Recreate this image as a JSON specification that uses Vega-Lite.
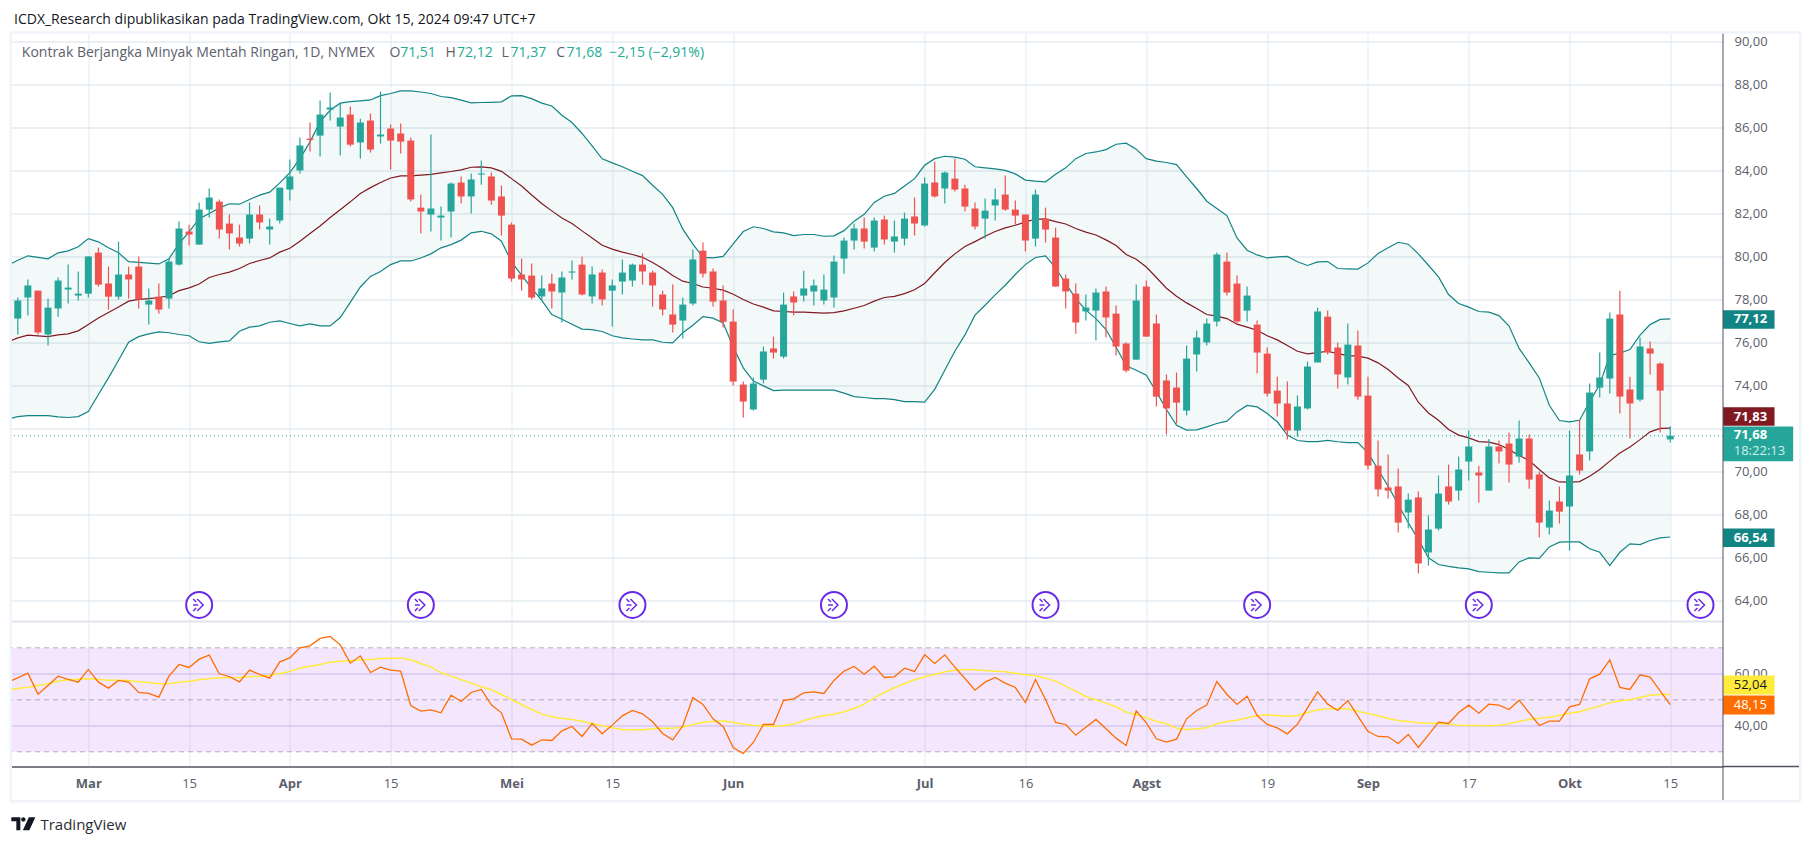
{
"$schema":"https://vega.github.io/schema/vega-lite/v6.json",
"background":"white",
"padding":{"left":8.5,"top":12.5,"right":0,"bottom":0},
"title":{"text":"ICDX_Research dipublikasikan pada TradingView.com, Okt 15, 2024 09:47 UTC+7","anchor":"start","fontSize":14,"fontWeight":"normal","color":"#131722","font":"Open Sans","offset":4,"dx":2.5,"frame":"group"},
"config":{"font":"Open Sans","view":{"stroke":null}},
"datasets":{
"bars":[
{"bar":-1,"upper":79.61,"mid":76.05,"lower":72.45,"rsi":56.79,"ma":53.85},
{"bar":0,"open":77.13,"high":78.11,"low":76.39,"close":77.97,"upper":79.84,"mid":76.23,"lower":72.57,"rsi":58.46,"ma":54.36},
{"bar":1,"open":78.11,"high":78.95,"low":77.27,"close":78.67,"upper":80.05,"mid":76.36,"lower":72.62,"rsi":60.26,"ma":54.87},
{"bar":2,"open":78.43,"high":78.43,"low":76.39,"close":76.48,"upper":79.98,"mid":76.33,"lower":72.62,"rsi":52.18,"ma":55.51},
{"bar":3,"open":76.39,"high":78.06,"low":75.88,"close":77.64,"upper":79.91,"mid":76.29,"lower":72.62,"rsi":55.51,"ma":56.15},
{"bar":4,"open":77.60,"high":79.04,"low":77.22,"close":78.90,"upper":80.19,"mid":76.37,"lower":72.56,"rsi":59.10,"ma":57.18},
{"bar":5,"open":78.48,"high":79.64,"low":77.83,"close":78.57,"upper":80.28,"mid":76.42,"lower":72.53,"rsi":57.82,"ma":57.69},
{"bar":6,"open":78.20,"high":79.32,"low":77.97,"close":78.29,"upper":80.47,"mid":76.56,"lower":72.57,"rsi":56.79,"ma":57.95},
{"bar":7,"open":78.29,"high":80.02,"low":78.11,"close":80.02,"upper":80.85,"mid":76.85,"lower":72.81,"rsi":61.67,"ma":58.08},
{"bar":8,"open":80.20,"high":80.43,"low":78.62,"close":78.71,"upper":80.70,"mid":77.16,"lower":73.60,"rsi":56.79,"ma":57.82},
{"bar":9,"open":78.76,"high":79.55,"low":77.55,"close":78.15,"upper":80.42,"mid":77.41,"lower":74.37,"rsi":54.49,"ma":57.56},
{"bar":10,"open":78.15,"high":80.71,"low":78.02,"close":79.18,"upper":80.19,"mid":77.67,"lower":75.19,"rsi":57.44,"ma":57.56},
{"bar":11,"open":79.18,"high":79.55,"low":78.06,"close":78.95,"upper":79.78,"mid":77.94,"lower":76.03,"rsi":56.79,"ma":57.44},
{"bar":12,"open":79.55,"high":80.02,"low":77.60,"close":78.02,"upper":79.74,"mid":78.02,"lower":76.29,"rsi":52.82,"ma":56.92},
{"bar":13,"open":77.78,"high":78.53,"low":76.85,"close":77.97,"upper":79.71,"mid":78.06,"lower":76.42,"rsi":52.44,"ma":56.67},
{"bar":14,"open":78.15,"high":78.76,"low":77.36,"close":77.55,"upper":79.67,"mid":78.11,"lower":76.51,"rsi":51.03,"ma":56.15},
{"bar":15,"open":78.06,"high":79.92,"low":77.60,"close":79.78,"upper":79.91,"mid":78.19,"lower":76.47,"rsi":59.10,"ma":56.15},
{"bar":16,"open":79.64,"high":81.64,"low":79.60,"close":81.32,"upper":80.62,"mid":78.43,"lower":76.39,"rsi":63.59,"ma":56.79},
{"bar":17,"open":81.18,"high":81.50,"low":80.53,"close":81.04,"upper":81.16,"mid":78.56,"lower":76.33,"rsi":62.44,"ma":57.18},
{"bar":18,"open":80.57,"high":82.53,"low":80.57,"close":82.20,"upper":81.78,"mid":78.74,"lower":76.05,"rsi":65.64,"ma":57.69},
{"bar":19,"open":82.20,"high":83.18,"low":81.83,"close":82.76,"upper":82.02,"mid":79.04,"lower":75.98,"rsi":67.18,"ma":58.21},
{"bar":20,"open":82.57,"high":82.67,"low":80.85,"close":81.27,"upper":82.28,"mid":79.18,"lower":76.05,"rsi":60.00,"ma":58.46},
{"bar":21,"open":81.55,"high":81.97,"low":80.34,"close":81.09,"upper":82.47,"mid":79.29,"lower":76.09,"rsi":58.97,"ma":58.46},
{"bar":22,"open":80.90,"high":81.50,"low":80.48,"close":80.62,"upper":82.45,"mid":79.46,"lower":76.54,"rsi":56.92,"ma":58.59},
{"bar":23,"open":80.85,"high":82.53,"low":80.62,"close":81.97,"upper":82.67,"mid":79.69,"lower":76.73,"rsi":61.41,"ma":58.85},
{"bar":24,"open":81.97,"high":82.39,"low":81.27,"close":81.60,"upper":82.87,"mid":79.83,"lower":76.79,"rsi":59.74,"ma":59.10},
{"bar":25,"open":81.27,"high":81.78,"low":80.57,"close":81.41,"upper":83.01,"mid":79.95,"lower":76.96,"rsi":58.33,"ma":59.36},
{"bar":26,"open":81.69,"high":83.22,"low":81.55,"close":83.22,"upper":83.44,"mid":80.22,"lower":77.02,"rsi":64.62,"ma":60.13},
{"bar":27,"open":83.13,"high":84.53,"low":82.62,"close":83.74,"upper":83.92,"mid":80.40,"lower":76.90,"rsi":66.15,"ma":60.90},
{"bar":28,"open":84.02,"high":85.55,"low":83.88,"close":85.18,"upper":84.57,"mid":80.73,"lower":76.79,"rsi":70.00,"ma":62.18},
{"bar":29,"open":85.50,"high":86.25,"low":84.90,"close":85.44,"upper":85.35,"mid":81.09,"lower":76.88,"rsi":70.77,"ma":62.95},
{"bar":30,"open":85.64,"high":87.27,"low":84.67,"close":86.62,"upper":86.28,"mid":81.44,"lower":76.79,"rsi":73.59,"ma":63.59},
{"bar":31,"open":86.85,"high":87.64,"low":86.34,"close":86.95,"upper":86.82,"mid":81.83,"lower":76.79,"rsi":74.36,"ma":64.49},
{"bar":32,"open":86.06,"high":87.13,"low":84.71,"close":86.48,"upper":87.15,"mid":82.19,"lower":77.18,"rsi":71.15,"ma":64.87},
{"bar":33,"open":86.62,"high":86.99,"low":85.13,"close":85.22,"upper":87.22,"mid":82.56,"lower":77.88,"rsi":64.10,"ma":65.00},
{"bar":34,"open":85.32,"high":86.43,"low":84.57,"close":86.25,"upper":87.26,"mid":82.95,"lower":78.60,"rsi":66.92,"ma":65.38},
{"bar":35,"open":86.34,"high":86.67,"low":84.85,"close":84.99,"upper":87.30,"mid":83.22,"lower":79.09,"rsi":60.51,"ma":65.51},
{"bar":36,"open":85.60,"high":87.69,"low":85.27,"close":85.69,"upper":87.50,"mid":83.46,"lower":79.32,"rsi":62.56,"ma":65.90},
{"bar":37,"open":85.97,"high":86.16,"low":84.06,"close":85.41,"upper":87.60,"mid":83.67,"lower":79.64,"rsi":61.41,"ma":66.03},
{"bar":38,"open":85.74,"high":86.20,"low":84.81,"close":85.36,"upper":87.72,"mid":83.77,"lower":79.81,"rsi":61.03,"ma":66.03},
{"bar":39,"open":85.41,"high":85.55,"low":82.57,"close":82.67,"upper":87.72,"mid":83.77,"lower":79.81,"rsi":47.82,"ma":65.38},
{"bar":40,"open":82.29,"high":82.90,"low":81.09,"close":82.11,"upper":87.67,"mid":83.80,"lower":79.95,"rsi":45.64,"ma":63.97},
{"bar":41,"open":81.97,"high":85.69,"low":81.18,"close":82.25,"upper":87.60,"mid":83.84,"lower":80.14,"rsi":46.15,"ma":62.69},
{"bar":42,"open":81.83,"high":82.34,"low":80.76,"close":81.92,"upper":87.46,"mid":83.91,"lower":80.42,"rsi":45.00,"ma":60.38},
{"bar":43,"open":82.11,"high":83.46,"low":80.90,"close":83.41,"upper":87.41,"mid":83.97,"lower":80.57,"rsi":51.79,"ma":59.10},
{"bar":44,"open":83.46,"high":83.74,"low":82.48,"close":82.81,"upper":87.29,"mid":84.05,"lower":80.78,"rsi":49.36,"ma":57.69},
{"bar":45,"open":82.81,"high":83.88,"low":82.02,"close":83.60,"upper":87.16,"mid":84.17,"lower":81.12,"rsi":52.82,"ma":56.41},
{"bar":46,"open":83.83,"high":84.48,"low":83.36,"close":83.88,"upper":87.18,"mid":84.19,"lower":81.19,"rsi":53.97,"ma":55.00},
{"bar":47,"open":83.74,"high":83.92,"low":82.43,"close":82.62,"upper":87.19,"mid":84.14,"lower":81.07,"rsi":48.08,"ma":53.85},
{"bar":48,"open":82.81,"high":83.32,"low":80.99,"close":81.92,"upper":87.21,"mid":83.98,"lower":80.73,"rsi":45.00,"ma":52.05},
{"bar":49,"open":81.50,"high":81.60,"low":78.85,"close":78.99,"upper":87.49,"mid":83.64,"lower":79.77,"rsi":35.00,"ma":50.13},
{"bar":50,"open":79.18,"high":79.92,"low":78.43,"close":78.95,"upper":87.50,"mid":83.30,"lower":79.15,"rsi":34.87,"ma":48.21},
{"bar":51,"open":79.13,"high":79.69,"low":78.02,"close":78.11,"upper":87.36,"mid":82.88,"lower":78.53,"rsi":32.56,"ma":46.28},
{"bar":52,"open":78.16,"high":79.13,"low":77.97,"close":78.53,"upper":87.15,"mid":82.48,"lower":77.98,"rsi":34.62,"ma":44.49},
{"bar":53,"open":78.76,"high":79.22,"low":77.60,"close":78.39,"upper":87.02,"mid":82.14,"lower":77.32,"rsi":34.36,"ma":43.46},
{"bar":54,"open":78.34,"high":79.32,"low":76.95,"close":79.04,"upper":86.59,"mid":81.81,"lower":77.10,"rsi":38.08,"ma":42.95},
{"bar":55,"open":79.27,"high":79.83,"low":78.95,"close":79.32,"upper":86.25,"mid":81.55,"lower":76.87,"rsi":39.74,"ma":42.44},
{"bar":56,"open":79.64,"high":80.02,"low":78.20,"close":78.25,"upper":85.74,"mid":81.21,"lower":76.64,"rsi":35.90,"ma":41.79},
{"bar":57,"open":78.16,"high":79.55,"low":77.83,"close":79.18,"upper":85.16,"mid":80.88,"lower":76.62,"rsi":40.90,"ma":40.90},
{"bar":58,"open":79.27,"high":79.41,"low":77.74,"close":78.02,"upper":84.56,"mid":80.54,"lower":76.53,"rsi":36.92,"ma":40.00},
{"bar":59,"open":78.43,"high":78.95,"low":76.76,"close":78.67,"upper":84.37,"mid":80.36,"lower":76.33,"rsi":40.26,"ma":39.23},
{"bar":60,"open":78.85,"high":79.88,"low":78.25,"close":79.27,"upper":84.19,"mid":80.22,"lower":76.23,"rsi":43.85,"ma":38.59},
{"bar":61,"open":78.90,"high":79.69,"low":78.62,"close":79.64,"upper":83.98,"mid":80.11,"lower":76.18,"rsi":45.90,"ma":38.46},
{"bar":62,"open":79.64,"high":80.16,"low":78.71,"close":79.32,"upper":83.78,"mid":79.98,"lower":76.14,"rsi":44.62,"ma":38.46},
{"bar":63,"open":79.27,"high":79.36,"low":77.69,"close":78.67,"upper":83.33,"mid":79.74,"lower":76.14,"rsi":41.54,"ma":38.85},
{"bar":64,"open":78.25,"high":78.43,"low":77.27,"close":77.55,"upper":82.91,"mid":79.46,"lower":76.03,"rsi":37.05,"ma":39.10},
{"bar":65,"open":77.32,"high":78.71,"low":76.48,"close":76.85,"upper":82.29,"mid":79.13,"lower":76.00,"rsi":34.62,"ma":39.10},
{"bar":66,"open":77.04,"high":78.11,"low":76.20,"close":77.78,"upper":81.29,"mid":78.87,"lower":76.47,"rsi":40.00,"ma":39.49},
{"bar":67,"open":77.83,"high":80.34,"low":77.74,"close":79.88,"upper":80.59,"mid":78.76,"lower":76.82,"rsi":50.90,"ma":40.51},
{"bar":68,"open":80.29,"high":80.67,"low":79.04,"close":79.22,"upper":79.98,"mid":78.60,"lower":77.22,"rsi":48.21,"ma":41.41},
{"bar":69,"open":79.32,"high":79.46,"low":77.69,"close":77.92,"upper":79.95,"mid":78.54,"lower":77.15,"rsi":42.69,"ma":41.67},
{"bar":70,"open":77.97,"high":78.67,"low":76.71,"close":76.98,"upper":80.02,"mid":78.45,"lower":76.93,"rsi":39.74,"ma":41.92},
{"bar":71,"open":76.99,"high":77.55,"low":74.02,"close":74.20,"upper":80.60,"mid":78.26,"lower":75.81,"rsi":31.67,"ma":41.28},
{"bar":72,"open":74.06,"high":74.20,"low":72.53,"close":73.27,"upper":81.18,"mid":78.02,"lower":74.84,"rsi":29.36,"ma":40.64},
{"bar":73,"open":72.90,"high":74.39,"low":72.85,"close":74.11,"upper":81.40,"mid":77.81,"lower":74.22,"rsi":33.59,"ma":40.26},
{"bar":74,"open":74.29,"high":75.83,"low":74.11,"close":75.60,"upper":81.32,"mid":77.66,"lower":74.00,"rsi":40.51,"ma":40.00},
{"bar":75,"open":75.74,"high":76.29,"low":75.27,"close":75.55,"upper":81.16,"mid":77.49,"lower":73.78,"rsi":40.51,"ma":39.74},
{"bar":76,"open":75.36,"high":78.34,"low":75.27,"close":77.78,"upper":81.12,"mid":77.46,"lower":73.80,"rsi":49.74,"ma":40.00},
{"bar":77,"open":78.16,"high":78.39,"low":77.27,"close":77.88,"upper":80.99,"mid":77.43,"lower":73.80,"rsi":50.38,"ma":40.64},
{"bar":78,"open":78.20,"high":79.36,"low":77.92,"close":78.53,"upper":81.04,"mid":77.43,"lower":73.80,"rsi":52.69,"ma":41.92},
{"bar":79,"open":78.39,"high":78.95,"low":77.74,"close":78.67,"upper":81.04,"mid":77.41,"lower":73.80,"rsi":53.08,"ma":43.08},
{"bar":80,"open":77.97,"high":79.18,"low":77.78,"close":78.48,"upper":80.96,"mid":77.38,"lower":73.80,"rsi":52.44,"ma":43.97},
{"bar":81,"open":78.11,"high":80.06,"low":77.64,"close":79.78,"upper":80.98,"mid":77.41,"lower":73.80,"rsi":57.44,"ma":44.49},
{"bar":82,"open":79.92,"high":80.90,"low":79.22,"close":80.76,"upper":81.22,"mid":77.49,"lower":73.66,"rsi":61.03,"ma":45.38},
{"bar":83,"open":80.76,"high":81.55,"low":80.34,"close":81.32,"upper":81.66,"mid":77.61,"lower":73.50,"rsi":62.82,"ma":46.67},
{"bar":84,"open":81.32,"high":81.83,"low":80.39,"close":80.71,"upper":81.98,"mid":77.74,"lower":73.46,"rsi":59.87,"ma":48.33},
{"bar":85,"open":80.43,"high":81.83,"low":80.25,"close":81.69,"upper":82.53,"mid":77.94,"lower":73.41,"rsi":62.95,"ma":50.77},
{"bar":86,"open":81.74,"high":81.92,"low":80.57,"close":80.81,"upper":82.82,"mid":78.11,"lower":73.41,"rsi":58.59,"ma":52.82},
{"bar":87,"open":80.71,"high":81.69,"low":80.20,"close":80.95,"upper":82.95,"mid":78.16,"lower":73.36,"rsi":58.85,"ma":54.62},
{"bar":88,"open":80.85,"high":82.06,"low":80.53,"close":81.78,"upper":83.30,"mid":78.29,"lower":73.27,"rsi":62.18,"ma":56.28},
{"bar":89,"open":81.88,"high":82.76,"low":80.99,"close":81.55,"upper":83.64,"mid":78.47,"lower":73.27,"rsi":60.90,"ma":57.69},
{"bar":90,"open":81.46,"high":83.69,"low":81.41,"close":83.41,"upper":84.26,"mid":78.76,"lower":73.24,"rsi":67.31,"ma":58.85},
{"bar":91,"open":83.46,"high":84.43,"low":82.76,"close":82.81,"upper":84.57,"mid":79.26,"lower":73.84,"rsi":63.97,"ma":59.74},
{"bar":92,"open":83.18,"high":83.97,"low":82.48,"close":83.92,"upper":84.68,"mid":79.74,"lower":74.73,"rsi":67.31,"ma":60.77},
{"bar":93,"open":83.64,"high":84.57,"low":83.04,"close":83.13,"upper":84.64,"mid":80.14,"lower":75.61,"rsi":62.56,"ma":61.41},
{"bar":94,"open":83.18,"high":83.36,"low":82.11,"close":82.34,"upper":84.54,"mid":80.48,"lower":76.37,"rsi":58.21,"ma":61.67},
{"bar":95,"open":82.25,"high":82.53,"low":81.27,"close":81.41,"upper":84.19,"mid":80.71,"lower":77.29,"rsi":53.72,"ma":61.54},
{"bar":96,"open":81.78,"high":82.71,"low":80.85,"close":82.15,"upper":84.14,"mid":80.96,"lower":77.75,"rsi":56.79,"ma":61.28},
{"bar":97,"open":82.39,"high":83.18,"low":81.69,"close":82.67,"upper":84.09,"mid":81.18,"lower":78.23,"rsi":58.59,"ma":61.03},
{"bar":98,"open":82.90,"high":83.78,"low":82.15,"close":82.20,"upper":84.02,"mid":81.35,"lower":78.68,"rsi":56.41,"ma":60.77},
{"bar":99,"open":82.20,"high":82.62,"low":81.50,"close":81.92,"upper":83.86,"mid":81.47,"lower":79.18,"rsi":54.74,"ma":60.26},
{"bar":100,"open":81.97,"high":81.97,"low":80.25,"close":80.76,"upper":83.57,"mid":81.63,"lower":79.64,"rsi":48.97,"ma":59.62},
{"bar":101,"open":80.85,"high":83.13,"low":80.48,"close":82.90,"upper":83.52,"mid":81.75,"lower":79.97,"rsi":57.82,"ma":59.23},
{"bar":102,"open":81.78,"high":82.29,"low":80.67,"close":81.27,"upper":83.49,"mid":81.77,"lower":80.05,"rsi":50.13,"ma":58.33},
{"bar":103,"open":80.90,"high":81.36,"low":78.62,"close":78.62,"upper":83.84,"mid":81.64,"lower":79.49,"rsi":41.28,"ma":57.18},
{"bar":104,"open":78.99,"high":79.18,"low":77.60,"close":78.39,"upper":84.14,"mid":81.53,"lower":78.76,"rsi":40.51,"ma":55.26},
{"bar":105,"open":78.29,"high":78.76,"low":76.43,"close":76.95,"upper":84.57,"mid":81.32,"lower":78.06,"rsi":36.41,"ma":53.33},
{"bar":106,"open":77.46,"high":78.25,"low":77.04,"close":77.64,"upper":84.81,"mid":81.15,"lower":77.52,"rsi":39.49,"ma":51.28},
{"bar":107,"open":77.50,"high":78.53,"low":76.11,"close":78.34,"upper":84.88,"mid":81.02,"lower":77.13,"rsi":42.44,"ma":50.00},
{"bar":108,"open":78.39,"high":78.62,"low":76.25,"close":77.18,"upper":84.99,"mid":80.79,"lower":76.62,"rsi":38.85,"ma":48.72},
{"bar":109,"open":77.36,"high":77.74,"low":75.41,"close":75.83,"upper":85.24,"mid":80.53,"lower":75.80,"rsi":35.26,"ma":47.31},
{"bar":110,"open":75.97,"high":76.02,"low":74.62,"close":74.71,"upper":85.29,"mid":80.11,"lower":74.93,"rsi":32.44,"ma":45.26},
{"bar":111,"open":75.22,"high":78.71,"low":75.22,"close":77.97,"upper":85.01,"mid":79.89,"lower":74.73,"rsi":45.77,"ma":44.36},
{"bar":112,"open":78.62,"high":78.90,"low":76.29,"close":76.29,"upper":84.57,"mid":79.53,"lower":74.50,"rsi":41.15,"ma":43.08},
{"bar":113,"open":76.90,"high":77.32,"low":73.04,"close":73.50,"upper":84.45,"mid":79.04,"lower":73.72,"rsi":35.00,"ma":41.79},
{"bar":114,"open":74.25,"high":74.53,"low":71.74,"close":72.95,"upper":84.39,"mid":78.54,"lower":72.90,"rsi":33.72,"ma":40.77},
{"bar":115,"open":73.92,"high":74.62,"low":72.25,"close":73.22,"upper":84.29,"mid":78.17,"lower":72.17,"rsi":34.87,"ma":39.10},
{"bar":116,"open":72.85,"high":75.88,"low":72.62,"close":75.27,"upper":83.72,"mid":77.86,"lower":71.94,"rsi":42.69,"ma":38.59},
{"bar":117,"open":75.46,"high":76.57,"low":74.67,"close":76.25,"upper":83.18,"mid":77.60,"lower":71.95,"rsi":45.90,"ma":38.85},
{"bar":118,"open":76.02,"high":77.13,"low":75.88,"close":76.90,"upper":82.59,"mid":77.32,"lower":72.09,"rsi":47.95,"ma":39.23},
{"bar":119,"open":76.99,"high":80.20,"low":76.76,"close":80.11,"upper":82.25,"mid":77.24,"lower":72.25,"rsi":57.05,"ma":40.77},
{"bar":120,"open":79.78,"high":80.20,"low":78.20,"close":78.34,"upper":81.92,"mid":77.13,"lower":72.36,"rsi":52.05,"ma":41.67},
{"bar":121,"open":78.76,"high":79.13,"low":76.85,"close":76.99,"upper":80.88,"mid":76.87,"lower":72.79,"rsi":48.21,"ma":42.18},
{"bar":122,"open":77.50,"high":78.62,"low":76.99,"close":78.20,"upper":80.31,"mid":76.73,"lower":73.09,"rsi":51.41,"ma":43.08},
{"bar":123,"open":76.85,"high":77.04,"low":74.57,"close":75.55,"upper":80.09,"mid":76.59,"lower":73.02,"rsi":43.97,"ma":43.85},
{"bar":124,"open":75.50,"high":75.78,"low":73.50,"close":73.64,"upper":79.95,"mid":76.33,"lower":72.71,"rsi":40.51,"ma":44.23},
{"bar":125,"open":73.78,"high":74.43,"low":72.57,"close":73.18,"upper":80.00,"mid":76.14,"lower":72.33,"rsi":39.20,"ma":43.97},
{"bar":126,"open":73.18,"high":74.20,"low":71.50,"close":71.92,"upper":80.02,"mid":75.88,"lower":71.71,"rsi":36.92,"ma":43.72},
{"bar":127,"open":71.92,"high":73.55,"low":71.64,"close":73.04,"upper":79.77,"mid":75.61,"lower":71.46,"rsi":40.64,"ma":43.97},
{"bar":128,"open":72.95,"high":75.13,"low":72.90,"close":74.90,"upper":79.60,"mid":75.49,"lower":71.41,"rsi":46.92,"ma":45.00},
{"bar":129,"open":75.09,"high":77.64,"low":75.09,"close":77.46,"upper":79.77,"mid":75.55,"lower":71.41,"rsi":53.08,"ma":46.15},
{"bar":130,"open":77.22,"high":77.50,"low":75.46,"close":75.55,"upper":79.78,"mid":75.61,"lower":71.46,"rsi":48.33,"ma":46.54},
{"bar":131,"open":75.78,"high":76.02,"low":73.88,"close":74.53,"upper":79.46,"mid":75.50,"lower":71.40,"rsi":45.90,"ma":46.54},
{"bar":132,"open":74.39,"high":76.90,"low":74.06,"close":75.92,"upper":79.44,"mid":75.41,"lower":71.36,"rsi":49.74,"ma":46.54},
{"bar":133,"open":75.88,"high":76.57,"low":73.36,"close":73.50,"upper":79.43,"mid":75.38,"lower":71.36,"rsi":43.72,"ma":45.64},
{"bar":134,"open":73.55,"high":74.43,"low":70.11,"close":70.29,"upper":79.72,"mid":75.29,"lower":70.88,"rsi":37.82,"ma":44.74},
{"bar":135,"open":70.29,"high":71.46,"low":68.85,"close":69.18,"upper":80.16,"mid":75.07,"lower":70.11,"rsi":35.90,"ma":43.85},
{"bar":136,"open":69.27,"high":70.81,"low":68.76,"close":69.13,"upper":80.42,"mid":74.76,"lower":69.33,"rsi":35.77,"ma":42.82},
{"bar":137,"open":69.32,"high":70.16,"low":67.18,"close":67.64,"upper":80.68,"mid":74.37,"lower":68.48,"rsi":33.21,"ma":42.05},
{"bar":138,"open":68.11,"high":68.99,"low":67.36,"close":68.71,"upper":80.59,"mid":74.02,"lower":67.63,"rsi":36.67,"ma":41.67},
{"bar":139,"open":68.81,"high":69.09,"low":65.27,"close":65.74,"upper":80.14,"mid":73.24,"lower":66.85,"rsi":31.67,"ma":41.15},
{"bar":140,"open":66.25,"high":67.97,"low":65.64,"close":67.32,"upper":79.61,"mid":72.74,"lower":66.00,"rsi":36.54,"ma":41.03},
{"bar":141,"open":67.36,"high":69.83,"low":67.27,"close":68.99,"upper":79.07,"mid":72.40,"lower":65.69,"rsi":41.41,"ma":41.03},
{"bar":142,"open":69.32,"high":70.34,"low":68.48,"close":68.62,"upper":78.25,"mid":71.97,"lower":65.60,"rsi":40.90,"ma":40.64},
{"bar":143,"open":69.13,"high":70.71,"low":68.67,"close":70.11,"upper":77.83,"mid":71.71,"lower":65.53,"rsi":45.13,"ma":40.26},
{"bar":144,"open":70.48,"high":71.92,"low":69.60,"close":71.18,"upper":77.66,"mid":71.58,"lower":65.49,"rsi":47.95,"ma":40.13},
{"bar":145,"open":69.97,"high":70.29,"low":68.57,"close":69.83,"upper":77.46,"mid":71.41,"lower":65.36,"rsi":44.87,"ma":40.13},
{"bar":146,"open":69.13,"high":71.53,"low":69.13,"close":71.18,"upper":77.43,"mid":71.38,"lower":65.33,"rsi":48.33,"ma":40.00},
{"bar":147,"open":71.18,"high":71.46,"low":70.39,"close":70.95,"upper":77.27,"mid":71.27,"lower":65.30,"rsi":47.95,"ma":40.26},
{"bar":148,"open":71.32,"high":71.83,"low":69.50,"close":70.34,"upper":76.78,"mid":71.04,"lower":65.30,"rsi":46.28,"ma":40.77},
{"bar":149,"open":70.71,"high":72.39,"low":70.43,"close":71.55,"upper":75.74,"mid":70.76,"lower":65.81,"rsi":49.87,"ma":41.67},
{"bar":150,"open":71.55,"high":71.74,"low":69.22,"close":69.64,"upper":75.07,"mid":70.53,"lower":66.00,"rsi":45.00,"ma":42.44},
{"bar":151,"open":69.88,"high":70.02,"low":66.95,"close":67.64,"upper":74.37,"mid":70.11,"lower":65.98,"rsi":40.13,"ma":42.95},
{"bar":152,"open":67.41,"high":68.67,"low":67.09,"close":68.20,"upper":73.10,"mid":69.72,"lower":66.51,"rsi":41.79,"ma":43.33},
{"bar":153,"open":68.62,"high":69.32,"low":67.60,"close":68.15,"upper":72.39,"mid":69.53,"lower":66.73,"rsi":41.79,"ma":43.97},
{"bar":154,"open":68.39,"high":71.92,"low":66.34,"close":69.83,"upper":72.33,"mid":69.52,"lower":66.74,"rsi":47.31,"ma":44.87},
{"bar":155,"open":70.81,"high":72.43,"low":69.88,"close":70.06,"upper":72.40,"mid":69.55,"lower":66.74,"rsi":48.21,"ma":45.38},
{"bar":156,"open":70.95,"high":74.11,"low":70.53,"close":73.69,"upper":73.26,"mid":69.80,"lower":66.42,"rsi":58.08,"ma":46.54},
{"bar":157,"open":73.92,"high":75.55,"low":73.46,"close":74.39,"upper":74.06,"mid":70.11,"lower":66.26,"rsi":59.87,"ma":47.56},
{"bar":158,"open":74.34,"high":77.41,"low":73.64,"close":77.13,"upper":75.41,"mid":70.50,"lower":65.64,"rsi":65.38,"ma":48.85},
{"bar":159,"open":77.32,"high":78.43,"low":72.71,"close":73.50,"upper":75.53,"mid":70.88,"lower":66.26,"rsi":54.74,"ma":49.62},
{"bar":160,"open":73.83,"high":74.43,"low":71.55,"close":73.18,"upper":75.69,"mid":71.16,"lower":66.65,"rsi":53.97,"ma":50.00},
{"bar":161,"open":73.36,"high":76.25,"low":73.27,"close":75.83,"upper":76.36,"mid":71.50,"lower":66.62,"rsi":59.62,"ma":50.90},
{"bar":162,"open":75.74,"high":76.06,"low":74.53,"close":75.50,"upper":76.85,"mid":71.86,"lower":66.81,"rsi":58.72,"ma":51.79},
{"bar":163,"open":75.04,"high":75.09,"low":71.83,"close":73.78,"upper":77.09,"mid":72.02,"lower":66.93,"rsi":53.46,"ma":52.05},
{"bar":164,"open":71.51,"high":72.12,"low":71.37,"close":71.68,"upper":77.12,"mid":72.03,"lower":66.97,"rsi":48.15,"ma":52.04}
],
"events":[{"bar":18},{"bar":40},{"bar":61},{"bar":81},{"bar":102},{"bar":123},{"bar":145},{"bar":167}],
"legend":[
{"at":0.4,"text":"Kontrak Berjangka Minyak Mentah Ringan, 1D, NYMEX","kind":"name"},
{"at":36.89,"text":"O","kind":"name"},
{"at":37.95,"text":"71,51","kind":"value"},
{"at":42.45,"text":"H","kind":"name"},
{"at":43.6,"text":"72,12","kind":"value"},
{"at":48.0,"text":"L","kind":"name"},
{"at":48.9,"text":"71,37","kind":"value"},
{"at":53.43,"text":"C","kind":"name"},
{"at":54.46,"text":"71,68","kind":"value"},
{"at":58.7,"text":"−2,15 (−2,91%)","kind":"value"}
],
"priceTags":[
{"series":"upper","label":"77,12","at":77.09},
{"series":"mid","label":"71,83","at":72.57},
{"series":"lower","label":"66,54","at":66.93}
],
"rsiTags":[
{"series":"ma","label":"52,04","at":55.69},
{"series":"rsi","label":"48,15","at":48.0}
]
},
"spacing":0,
"bounds":"flush",
"vconcat":[
{"width":1711.5,"height":588,"layer":[
{"data":{"name":"bars"},"mark":{"type":"area","color":"#138484","opacity":0.05,"clip":true},
"encoding":{
"x":{"field":"bar","type":"quantitative","title":null,"scale":{"domain":[-0.625,169.235],"nice":false,"zero":false,"padding":0},
"axis":{"values":[7,17,27,37,49,59,71,90,100,112,124,134,144,154,164],"labels":false,"ticks":false,"domain":false,"grid":true,"gridColor":"#e3ebf1","title":null}},
"y":{"field":"upper","type":"quantitative","title":null,"scale":{"domain":[63.04,90.39],"nice":false,"zero":false},
"axis":{"orient":"right","values":[64,66,68,70,72,74,76,78,80,82,84,86,88,90],"labelExpr":"datum.value==72?'':replace(format(datum.value,'.2f'),'.',',')","labelFontSize":13,"labelColor":"#5d606b","labelPadding":11,"ticks":false,"domain":false,"grid":true,"gridColor":"#e3ebf1","gridWidth":1.5,"title":null}},
"y2":{"field":"lower"}}},
{"data":{"values":[{}]},"mark":{"type":"rule","color":"#26a69a","strokeDash":[1,3],"strokeWidth":1},"encoding":{"y":{"datum":71.68}}},
{"data":{"name":"bars"},"mark":{"type":"line","color":"#138484","strokeWidth":1.2,"clip":true},"encoding":{"x":{"field":"bar","type":"quantitative"},"y":{"field":"upper","type":"quantitative"}}},
{"data":{"name":"bars"},"mark":{"type":"line","color":"#138484","strokeWidth":1.2,"clip":true},"encoding":{"x":{"field":"bar","type":"quantitative"},"y":{"field":"lower","type":"quantitative"}}},
{"data":{"name":"bars"},"mark":{"type":"line","color":"#801922","strokeWidth":1.2,"clip":true},"encoding":{"x":{"field":"bar","type":"quantitative"},"y":{"field":"mid","type":"quantitative"}}},
{"data":{"name":"bars"},"transform":[{"filter":"datum.bar>=0"}],"mark":{"type":"rule","strokeWidth":1.2},"encoding":{"x":{"field":"bar","type":"quantitative"},"y":{"field":"low","type":"quantitative"},"y2":{"field":"high"},"color":{"condition":{"test":"datum.close>=datum.open","value":"#26a69a"},"value":"#ef5350"}}},
{"data":{"name":"bars"},"transform":[{"filter":"datum.bar>=0"}],"mark":{"type":"bar","width":7},"encoding":{"x":{"field":"bar","type":"quantitative"},"y":{"field":"open","type":"quantitative"},"y2":{"field":"close"},"color":{"condition":{"test":"datum.close>=datum.open","value":"#26a69a"},"value":"#ef5350"}}},
{"data":{"name":"events"},"mark":{"type":"point","shape":"circle","size":676,"filled":true,"fill":"white","stroke":"#6a2be8","strokeWidth":2,"opacity":1},"encoding":{"x":{"field":"bar","type":"quantitative"},"y":{"datum":63.81}}},
{"data":{"name":"events"},"mark":{"type":"point","shape":"M-6,0H-1M-2,-6L4,0L-2,6M-6,-6L-3,-3M-6,6L-3,3","size":4,"stroke":"#6a2be8","strokeWidth":1.5,"opacity":1},"encoding":{"x":{"field":"bar","type":"quantitative"},"y":{"datum":63.81}}},
{"data":{"name":"legend"},"mark":{"type":"text","align":"left","baseline":"middle","fontSize":14},"encoding":{"x":{"field":"at","type":"quantitative"},"y":{"datum":89.49},"text":{"field":"text"},"color":{"condition":{"test":"datum.kind=='value'","value":"#22ab94"},"value":"#5d606b"}}},
{"data":{"name":"priceTags"},"mark":{"type":"rect","height":18.5,"clip":false},"encoding":{"x":{"datum":169.235},"x2":{"datum":174.35},"y":{"field":"at","type":"quantitative"},"color":{"field":"series","type":"nominal","legend":null,"scale":{"domain":["upper","mid","lower","ma","rsi"],"range":["#138484","#801922","#138484","#ffeb3b","#ff6d00"]}}}},
{"data":{"name":"priceTags"},"mark":{"type":"text","align":"left","baseline":"middle","fontSize":13,"fontWeight":"bold","color":"white","clip":false},"encoding":{"x":{"datum":170.3},"y":{"field":"at","type":"quantitative"},"text":{"field":"label"}}},
{"data":{"values":[{}]},"mark":{"type":"rect","color":"#26a69a","clip":false},"encoding":{"x":{"datum":169.235},"x2":{"datum":176.2},"y":{"datum":72.11},"y2":{"datum":70.49}}},
{"data":{"values":[{"label":"71,68"}]},"mark":{"type":"text","align":"left","baseline":"middle","fontSize":13,"fontWeight":"bold","color":"white","clip":false},"encoding":{"x":{"datum":170.3},"y":{"datum":71.73},"text":{"field":"label"}}},
{"data":{"values":[{"label":"18:22:13"}]},"mark":{"type":"text","align":"left","baseline":"middle","fontSize":13,"color":"#d5efec","clip":false},"encoding":{"x":{"datum":170.3},"y":{"datum":70.99},"text":{"field":"label"}}}
]},
{"width":1711.5,"height":145,"layer":[
{"data":{"values":[{}]},"mark":{"type":"rect","color":"#8f11f0","opacity":0.1},
"encoding":{
"x":{"datum":-0.625,"title":null,"scale":{"domain":[-0.625,169.235],"nice":false,"zero":false},
"axis":{"values":[7,17,27,37,49,59,71,90,100,112,124,134,144,154,164],"labelExpr":"{7:'Mar',17:'15',27:'Apr',37:'15',49:'Mei',59:'15',71:'Jun',90:'Jul',100:'16',112:'Agst',124:'19',134:'Sep',144:'17',154:'Okt',164:'15'}[datum.value]","labelFontSize":13,"labelColor":"#5d606b","labelFontWeight":{"condition":{"test":"indexof([7,27,49,71,90,112,134,154],datum.value)>=0","value":"bold"},"value":"normal"},"labelPadding":11,"ticks":false,"domain":true,"domainColor":"#50535e","domainWidth":1.5,"grid":true,"gridColor":"#e3ebf1","title":null}},
"x2":{"datum":169.235},
"y":{"datum":70,"title":null,"scale":{"domain":[24.35,80.12],"nice":false,"zero":false},
"axis":{"orient":"right","values":[40,60],"labelExpr":"replace(format(datum.value,'.2f'),'.',',')","labelFontSize":13,"labelColor":"#5d606b","labelPadding":11,"ticks":false,"domain":false,"grid":true,"gridColor":"#dcdcf0","gridWidth":1.5,"title":null}},
"y2":{"datum":30}}},
{"data":{"values":[{"level":70},{"level":50},{"level":30}]},"mark":{"type":"rule","color":"#787b86","opacity":0.55,"strokeDash":[5,4],"strokeWidth":1},"encoding":{"y":{"field":"level","type":"quantitative"}}},
{"data":{"name":"bars"},"mark":{"type":"line","color":"#ffeb3b","strokeWidth":1.5,"clip":true},"encoding":{"x":{"field":"bar","type":"quantitative"},"y":{"field":"ma","type":"quantitative"}}},
{"data":{"name":"bars"},"mark":{"type":"line","color":"#ff6d00","strokeWidth":1.3,"clip":true},"encoding":{"x":{"field":"bar","type":"quantitative"},"y":{"field":"rsi","type":"quantitative"}}},
{"data":{"name":"rsiTags"},"mark":{"type":"rect","height":19,"clip":false},"encoding":{"x":{"datum":169.235},"x2":{"datum":174.35},"y":{"field":"at","type":"quantitative"},"color":{"field":"series","type":"nominal","legend":null,"scale":{"domain":["upper","mid","lower","ma","rsi"],"range":["#138484","#801922","#138484","#ffeb3b","#ff6d00"]}}}},
{"data":{"name":"rsiTags"},"mark":{"type":"text","align":"left","baseline":"middle","fontSize":13,"clip":false},"encoding":{"x":{"datum":170.3},"y":{"field":"at","type":"quantitative"},"text":{"field":"label"},"color":{"condition":{"test":"datum.series=='ma'","value":"#131722"},"value":"white"}}},
{"data":{"values":[{}]},"mark":{"type":"rule","color":"#e0e3eb","strokeWidth":2,"clip":false},"encoding":{"x":{"datum":-0.625},"x2":{"datum":169.235},"y":{"datum":80.12}}},
{"data":{"values":[{}]},"mark":{"type":"rule","color":"#50535e","strokeWidth":1.5,"clip":false},"encoding":{"x":{"datum":169.235},"x2":{"datum":176.8},"y":{"datum":24.35}}},
{"data":{"values":[{}]},"mark":{"type":"rule","color":"#50535e","strokeWidth":1,"clip":false},"encoding":{"x":{"datum":169.235},"y":{"datum":306.7},"y2":{"datum":11}}},
{"data":{"values":[{}]},"mark":{"type":"rule","color":"#f0f3fa","strokeWidth":2.5,"clip":false},"encoding":{"x":{"datum":-0.7},"y":{"datum":306.7},"y2":{"datum":11}}},
{"data":{"values":[{}]},"mark":{"type":"rule","color":"#f0f3fa","strokeWidth":2.5,"clip":false},"encoding":{"x":{"datum":176.9},"y":{"datum":306.7},"y2":{"datum":11}}},
{"data":{"values":[{}]},"mark":{"type":"rule","color":"#f0f3fa","strokeWidth":2.5,"clip":false},"encoding":{"x":{"datum":-0.7},"x2":{"datum":176.9},"y":{"datum":306.7}}},
{"data":{"values":[{}]},"mark":{"type":"rule","color":"#f0f3fa","strokeWidth":2.5,"clip":false},"encoding":{"x":{"datum":-0.7},"x2":{"datum":176.9},"y":{"datum":11}}},
{"data":{"values":[{}]},"mark":{"type":"point","shape":"M-12,-6.5H-3V6.5H-7V-2.5H-12ZM5.5,-6.5H12L6,6.5H-0.5ZM0,-6.5A2.2,2.2 0 1 1 0,-2.1A2.2,2.2 0 1 1 0,-6.5Z","size":4,"filled":true,"fill":"#131722","opacity":1,"stroke":null,"clip":false},"encoding":{"x":{"datum":0.55},"y":{"datum":2.35}}},
{"data":{"values":[{"label":"TradingView"}]},"mark":{"type":"text","align":"left","baseline":"middle","fontSize":15,"color":"#2a2e39","clip":false},"encoding":{"x":{"datum":2.25},"y":{"datum":2.04},"text":{"field":"label"}}}
]}
]
}
